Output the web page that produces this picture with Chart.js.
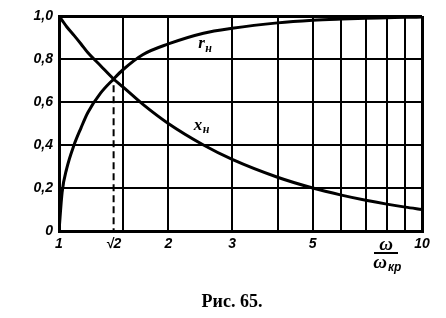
<!DOCTYPE html>
<html>
<head>
<meta charset="utf-8">
<script src="https://cdn.jsdelivr.net/npm/chart.js@4"></script>
<style>
  html, body { margin: 0; padding: 0; background: #fff; }
  #wrap { width: 446px; height: 318px; }
</style>
</head>
<body>
<div id="wrap"><canvas id="grafica"></canvas></div>
<script>
// omega / omega_kp
const omega = [1, 1.02, 1.05, 1.1, 1.15, 1.2, 1.3, 1.414, 1.5, 1.7, 2, 2.5, 3, 4, 5, 6, 7, 8, 9, 10];
const rValues = [0, 0.18, 0.29, 0.40, 0.48, 0.55, 0.64, 0.707, 0.75, 0.82, 0.87, 0.92, 0.943, 0.968, 0.98, 0.986, 0.99, 0.992, 0.994, 0.995];
const xValues = [1, 0.98, 0.95, 0.91, 0.87, 0.83, 0.77, 0.707, 0.67, 0.59, 0.5, 0.4, 0.333, 0.25, 0.2, 0.167, 0.143, 0.125, 0.111, 0.1];
const gridX = [1, 1.414, 1.5, 2, 3, 4, 5, 6, 7, 8, 9, 10];
const xLabels = { 1: "1", 1.414: "√2", 2: "2", 3: "3", 5: "5", 10: "10" };
const yTicks = [0, 0.2, 0.4, 0.6, 0.8, 1.0];
const yLabels = ["0", "0,2", "0,4", "0,6", "0,8", "1,0"];
const SQRT2 = 1.414;
const crossing = 0.707;

const canvas = document.getElementById("grafica");
const fontTicks = { family: "Liberation Sans", size: 14, style: "italic", weight: "bold" };

const textos = {
  id: "textos",
  afterDraw(chart) {
    const ctx = chart.ctx;
    const xs = chart.scales.x;
    const ys = chart.scales.y;
    ctx.save();
    ctx.fillStyle = "#000";
    // curve names
    const rx = xs.getPixelForValue(2.42), ry = ys.getPixelForValue(0.85);
    const xx = xs.getPixelForValue(2.35), xy = ys.getPixelForValue(0.47);
    ctx.font = "italic bold 17px 'Liberation Serif'";
    ctx.textAlign = "left";
    ctx.textBaseline = "alphabetic";
    ctx.fillText("r", rx, ry);
    ctx.fillText("x", xx, xy);
    ctx.font = "italic bold 12px 'Liberation Serif'";
    ctx.fillText("н", rx + 7, ry + 4);
    ctx.fillText("н", xx + 9, xy + 3);
    // axis name omega / omega_kp
    const cx = 386;
    ctx.textAlign = "center";
    ctx.font = "italic bold 19px 'Liberation Serif'";
    ctx.fillText("ω", cx, 250);
    ctx.fillRect(cx - 12, 252, 24, 2);
    ctx.fillText("ω", cx - 6, 268);
    ctx.font = "italic bold 12px 'Liberation Sans'";
    ctx.textAlign = "left";
    ctx.fillText("кр", cx + 2, 271);
    // caption
    ctx.font = "bold 18px 'Liberation Serif'";
    ctx.textAlign = "center";
    ctx.fillText("Рис. 65.", 232, 307);
    ctx.restore();
  }
};

new Chart(canvas, {
  type: "line",
  data: {
    datasets: [
      {
        label: "rн",
        data: omega.map((w, i) => ({ x: w, y: rValues[i] })),
        borderColor: "#000",
        borderWidth: 3,
        pointRadius: 0,
        cubicInterpolationMode: "monotone"
      },
      {
        label: "xн",
        data: omega.map((w, i) => ({ x: w, y: xValues[i] })),
        borderColor: "#000",
        borderWidth: 3,
        pointRadius: 0,
        cubicInterpolationMode: "monotone"
      },
      {
        label: "√2",
        data: [{ x: SQRT2, y: -0.02 }, { x: SQRT2, y: crossing }],
        borderColor: "#000",
        borderWidth: 2,
        borderDash: [7, 4],
        pointRadius: 0
      }
    ]
  },
  options: {
    responsive: true,
    maintainAspectRatio: false,
    animation: false,
    layout: { padding: { top: 16, right: 24, left: 0, bottom: 0 } },
    plugins: { legend: { display: false }, tooltip: { enabled: false } },
    scales: {
      x: {
        type: "logarithmic",
        min: 1,
        max: 10,
        afterBuildTicks: scale => { scale.ticks = gridX.map(v => ({ value: v })); },
        afterFit: scale => { scale.height = 87; },
        ticks: {
          autoSkip: false,
          maxRotation: 0,
          color: "#000",
          font: fontTicks,
          padding: 5,
          callback: v => xLabels[v] || ""
        },
        grid: {
          color: c => (c.tick && c.tick.value === SQRT2 ? "rgba(0,0,0,0)" : "#000"),
          lineWidth: c => (c.tick && (c.tick.value === 1 || c.tick.value === 10) ? 3 : 2),
          drawTicks: false
        },
        border: { color: "#000", width: 3 }
      },
      y: {
        min: 0,
        max: 1,
        afterBuildTicks: scale => { scale.ticks = yTicks.map(v => ({ value: v })); },
        afterFit: scale => { scale.width = 59; },
        ticks: {
          color: "#000",
          font: fontTicks,
          padding: 6,
          callback: (v, i) => yLabels[i]
        },
        grid: {
          color: "#000",
          lineWidth: c => (c.tick && (c.tick.value === 0 || c.tick.value === 1) ? 3 : 2),
          drawTicks: false
        },
        border: { color: "#000", width: 3 }
      }
    }
  },
  plugins: [textos]
});
</script>
</body>
</html>
